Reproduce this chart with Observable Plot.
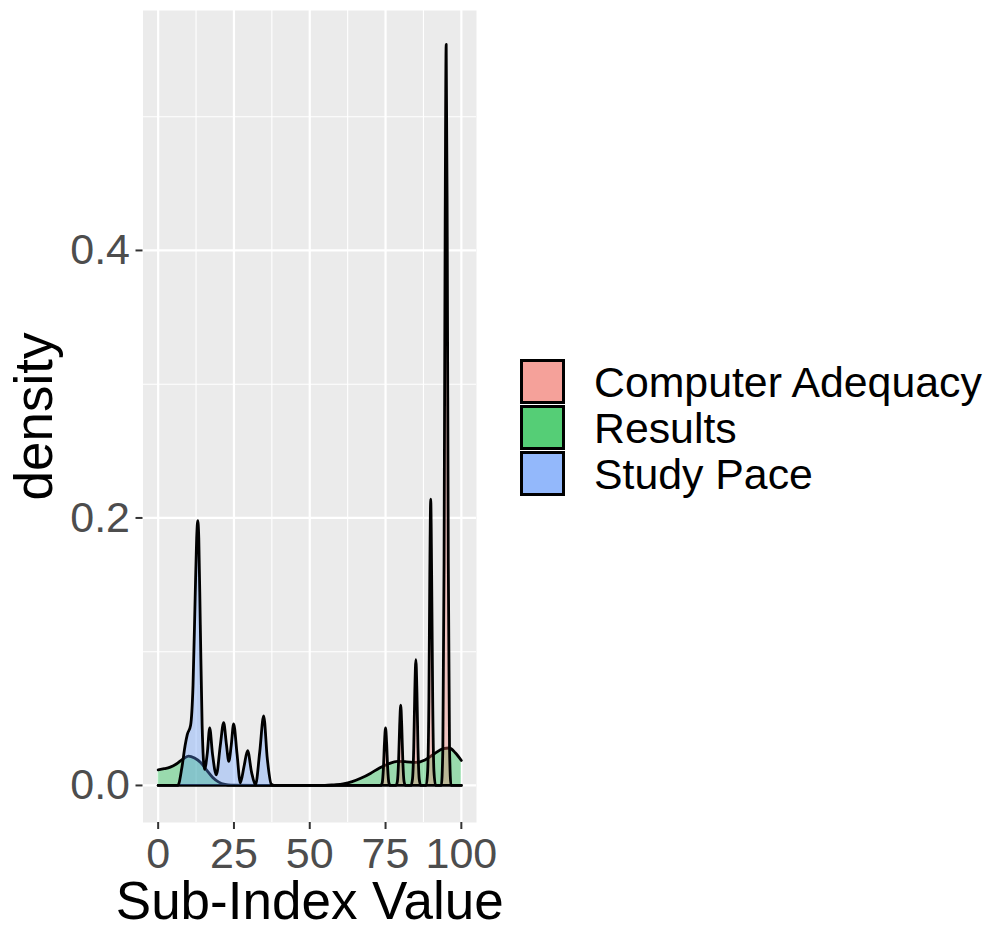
<!DOCTYPE html>
<html>
<head>
<meta charset="utf-8">
<script src="https://cdn.jsdelivr.net/npm/d3@7"></script>
<script src="https://cdn.jsdelivr.net/npm/@observablehq/plot@0.6"></script>
<style>
  body { margin: 0; background: #ffffff; }
  #wrap { position: relative; width: 988px; height: 933px; font-family: "Liberation Sans", Arial, sans-serif; }
  #chart { position: absolute; left: 0; top: 0; }
  .key { position: absolute; left: 520px; width: 45px; height: 45px; box-sizing: border-box; border: 3px solid #000; }
  .lab { position: absolute; left: 594px; font-size: 42.8px; line-height: 46px; color: #000; white-space: nowrap; }
</style>
</head>
<body>
<div id="wrap"><div id="chart"></div></div>
<script>
// ---- data ----
const categories = ["Computer Adequacy", "Results", "Study Pace"];
const fillColors = ["#F8766D", "#00BA38", "#619CFF"];
const keyColors = ["#F5A19A", "#55CE76", "#93B8FB"];

const caX = [0,
  73.4, 73.9, 74.3, 74.65, 75, 75.35, 75.7, 76.1, 76.6,
  78.4, 78.9, 79.3, 79.65, 80, 80.35, 80.7, 81.1, 81.6,
  83.4, 83.9, 84.3, 84.65, 85, 85.35, 85.7, 86.1, 86.6,
  88.4, 88.9, 89.3, 89.6, 89.9, 90.2, 90.55, 90.95, 91.5,
  93.4, 93.9, 94.3, 94.65, 95, 95.35, 95.7, 96.1, 96.6,
  100];
const caY = [0,
  0, 0.002, 0.013, 0.032, 0.043, 0.032, 0.013, 0.002, 0,
  0, 0.003, 0.018, 0.044, 0.060, 0.044, 0.018, 0.003, 0,
  0, 0.005, 0.028, 0.070, 0.094, 0.070, 0.028, 0.005, 0,
  0, 0.011, 0.064, 0.158, 0.214, 0.158, 0.064, 0.011, 0,
  0, 0.028, 0.166, 0.410, 0.554, 0.410, 0.166, 0.028, 0,
  0];

const resultsX = [0, 2, 4, 6, 8, 10, 12, 14, 16, 18, 20, 22, 24, 55, 58, 61, 64, 67, 70, 73, 76, 79, 82, 85, 88, 91, 94, 96, 98, 100];
const resultsY = [0.0117, 0.0125, 0.0137, 0.016, 0.0195, 0.022, 0.0205, 0.0172, 0.0115, 0.006, 0.0025, 0.0008, 0.0002, 0, 0.0005, 0.0012, 0.0028, 0.0055, 0.009, 0.013, 0.0162, 0.018, 0.0177, 0.0172, 0.019, 0.0235, 0.0275, 0.028, 0.0245, 0.0187];

const paceX = [0, 6.5, 7.8, 8.9, 9.6, 10.7, 11.5, 12.2, 12.7, 13.06, 13.4, 13.9, 14.5, 15.3, 16.2, 17, 17.9, 19.2, 20.5, 21.6, 22.5, 23.3, 24.1, 24.9, 26, 27.1, 28.3, 29.5, 30.8, 32.1, 33.5, 34.8, 36, 37.3, 38.3, 100];
const paceY = [0, 0, 0.013, 0.03, 0.038, 0.045, 0.075, 0.14, 0.185, 0.198, 0.185, 0.12, 0.045, 0.012, 0.024, 0.043, 0.024, 0.008, 0.03, 0.047, 0.031, 0.018, 0.03, 0.046, 0.024, 0.002, 0.014, 0.026, 0.01, 0.0005, 0.025, 0.052, 0.02, 0.001, 0, 0];

const xTicks = [0, 25, 50, 75, 100];
const xMinor = [12.5, 37.5, 62.5, 87.5];
const yTicks = [0, 0.2, 0.4];
const yMinor = [0.1, 0.3, 0.5];
const xTitle = "Sub-Index Value";
const yTitle = "density";

// ---- build tables ----
const toRows = (xs, ys) => xs.map((x, i) => ({x, y: ys[i]}));
const series = {
  "Computer Adequacy": toRows(caX, caY),
  "Results": toRows(resultsX, resultsY),
  "Study Pace": toRows(paceX, paceY)
};
const drawOrder = ["Results", "Computer Adequacy", "Study Pace"];
const font = "Liberation Sans, Arial, sans-serif";

const densityMarks = drawOrder.flatMap(name => {
  const col = fillColors[categories.indexOf(name)];
  return [
    Plot.areaY(series[name], {x: "x", y: "y", fill: col, fillOpacity: 0.35, curve: "monotone-x"}),
    Plot.lineY(series[name], {x: "x", y: "y", stroke: "#000", strokeWidth: 2.8, curve: "monotone-x"})
  ];
});

const chart = Plot.plot({
  width: 988,
  height: 933,
  marginLeft: 142.5,
  marginRight: 512,
  marginTop: 10,
  marginBottom: 111,
  style: {fontFamily: font, background: "#ffffff"},
  x: {domain: [-5, 105], label: null},
  y: {domain: [-0.0277, 0.5794], label: null},
  marks: [
    Plot.frame({fill: "#EBEBEB", stroke: null}),
    Plot.gridX(xMinor, {stroke: "#ffffff", strokeOpacity: 1, strokeWidth: 1.1}),
    Plot.gridY(yMinor, {stroke: "#ffffff", strokeOpacity: 1, strokeWidth: 1.1}),
    Plot.gridX(xTicks, {stroke: "#ffffff", strokeOpacity: 1, strokeWidth: 2.2}),
    Plot.gridY(yTicks, {stroke: "#ffffff", strokeOpacity: 1, strokeWidth: 2.2}),
    ...densityMarks,
    Plot.axisX(xTicks, {tickSize: 7, tickPadding: 8, fontSize: 43, stroke: "#333333", strokeWidth: 2, fill: "#4D4D4D", label: null, fontFamily: font}),
    Plot.axisY(yTicks, {tickSize: 7, tickPadding: 6, fontSize: 43, stroke: "#333333", strokeWidth: 2, fill: "#4D4D4D", label: null, tickFormat: d3.format(".1f"), fontFamily: font}),
    Plot.text([xTitle], {text: d => d, frameAnchor: "bottom", dy: 96, lineAnchor: "bottom", textAnchor: "middle", fontSize: 53, fill: "#000", fontFamily: font}),
    Plot.text([yTitle], {text: d => d, frameAnchor: "left", dx: -91, rotate: -90, lineAnchor: "bottom", textAnchor: "middle", fontSize: 53, fill: "#000", fontFamily: font})
  ]
});
document.getElementById("chart").appendChild(chart);

// ---- legend ----
const wrap = document.getElementById("wrap");
categories.forEach((name, i) => {
  const k = document.createElement("div");
  k.className = "key";
  k.style.top = (359 + 46 * i) + "px";
  k.style.background = keyColors[i];
  wrap.appendChild(k);
  const t = document.createElement("div");
  t.className = "lab";
  t.style.top = (359 + 46 * i) + "px";
  t.textContent = name;
  wrap.appendChild(t);
});
</script>
</body>
</html>
